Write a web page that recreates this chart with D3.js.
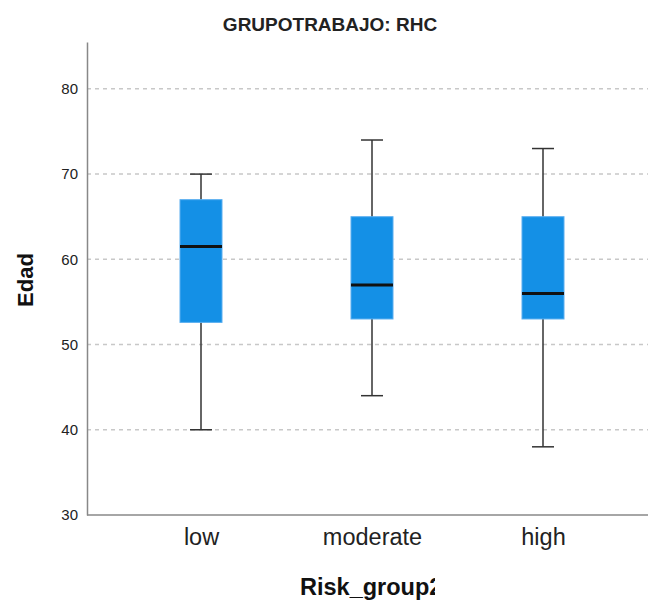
<!DOCTYPE html>
<html>
<head>
<meta charset="utf-8">
<script src="https://cdn.jsdelivr.net/npm/d3@7"></script>
<style>
  body { margin: 0; background: #fff; }
  text { font-family: "Liberation Sans", Arial, sans-serif; }
</style>
</head>
<body>
<div class="chart"></div>
<script>
// values
const groups = ["low", "moderate", "high"];
const whiskerLow = [40, 44, 38];
const q1 = [52.6, 53, 53];
const median = [61.5, 57, 56];
const q3 = [67, 65, 65];
const whiskerHigh = [70, 74, 73];
const yTicks = [30, 40, 50, 60, 70, 80];

const data = groups.map((g, i) => ({
    group: g, lo: whiskerLow[i], q1: q1[i], med: median[i], q3: q3[i], hi: whiskerHigh[i]
}));

const W = 650, H = 603;
const margin = {top: 42, left: 87, right: 2, bottom: 88};
const width = W - margin.left - margin.right;
const height = H - margin.top - margin.bottom;

const svg = d3.select(".chart").append("svg")
    .attr("width", W)
    .attr("height", H);

// box centres sit a little left of equal thirds
const x = d3.scalePoint()
    .domain(groups)
    .range([114, 456]);

const y = d3.scaleLinear()
    .domain([30, 85.5])
    .range([height, 0]);

const g = svg.append("g")
    .attr("transform", `translate(${margin.left},${margin.top})`);

// dashed grid
g.selectAll(".grid")
    .data(yTicks.filter(d => d > 30))
    .enter()
    .append("line")
    .attr("x1", 0)
    .attr("x2", width)
    .attr("y1", d => y(d))
    .attr("y2", d => y(d))
    .attr("stroke", "#c8c8c8")
    .attr("stroke-width", 1.5)
    .attr("stroke-dasharray", "4,4");

// y axis
const yAxis = d3.axisLeft(y).tickValues(yTicks).tickSize(0).tickPadding(9);
g.append("g")
    .call(yAxis)
    .call(a => a.select(".domain").attr("stroke", "#888").attr("stroke-width", 1.5))
    .selectAll("text")
    .attr("font-size", 15)
    .attr("fill", "#222");

// x axis
const xAxis = d3.axisBottom(x).tickSize(0).tickPadding(13);
g.append("g")
    .attr("transform", `translate(0,${height})`)
    .call(xAxis)
    .call(a => a.select(".domain").attr("stroke", "#888").attr("stroke-width", 1.5)
        .attr("d", `M0,0H${width}`))
    .selectAll("text")
    .attr("font-size", 23.5)
    .attr("fill", "#222");

const boxW = 42, capW = 22;
const box = g.selectAll(".box")
    .data(data)
    .enter()
    .append("g")
    .attr("transform", d => `translate(${x(d.group)},0)`);

box.append("line")
    .attr("x1", 0).attr("x2", 0)
    .attr("y1", d => y(d.lo))
    .attr("y2", d => y(d.hi))
    .attr("stroke", "#333")
    .attr("stroke-width", 1.5);

box.selectAll(".cap")
    .data(d => [d.lo, d.hi])
    .enter()
    .append("line")
    .attr("x1", -capW / 2).attr("x2", capW / 2)
    .attr("y1", d => y(d)).attr("y2", d => y(d))
    .attr("stroke", "#333")
    .attr("stroke-width", 1.5);

box.append("rect")
    .attr("x", -boxW / 2)
    .attr("width", boxW)
    .attr("y", d => y(d.q3))
    .attr("height", d => y(d.q1) - y(d.q3))
    .attr("fill", "#1490e6")
    .attr("stroke", "#5aaef0")
    .attr("stroke-width", 1);

box.append("line")
    .attr("x1", -boxW / 2).attr("x2", boxW / 2)
    .attr("y1", d => y(d.med)).attr("y2", d => y(d.med))
    .attr("stroke", "#111")
    .attr("stroke-width", 3);

// title
svg.append("text")
    .attr("x", 330)
    .attr("y", 31)
    .attr("text-anchor", "middle")
    .attr("font-size", 19)
    .attr("font-weight", "bold")
    .attr("fill", "#222")
    .text("GRUPOTRABAJO: RHC");

// axis titles
svg.append("defs").append("clipPath")
    .attr("id", "xclip")
    .append("rect")
    .attr("x", 0).attr("y", 560)
    .attr("width", 435).attr("height", 43);

svg.append("text")
    .attr("x", 300)
    .attr("y", 595)
    .attr("font-size", 23.5)
    .attr("font-weight", "bold")
    .attr("fill", "#111")
    .attr("clip-path", "url(#xclip)")
    .text("Risk_group2");

svg.append("text")
    .attr("transform", "translate(33,280) rotate(-90)")
    .attr("text-anchor", "middle")
    .attr("font-size", 22)
    .attr("font-weight", "bold")
    .attr("fill", "#111")
    .text("Edad");
</script>
</body>
</html>
